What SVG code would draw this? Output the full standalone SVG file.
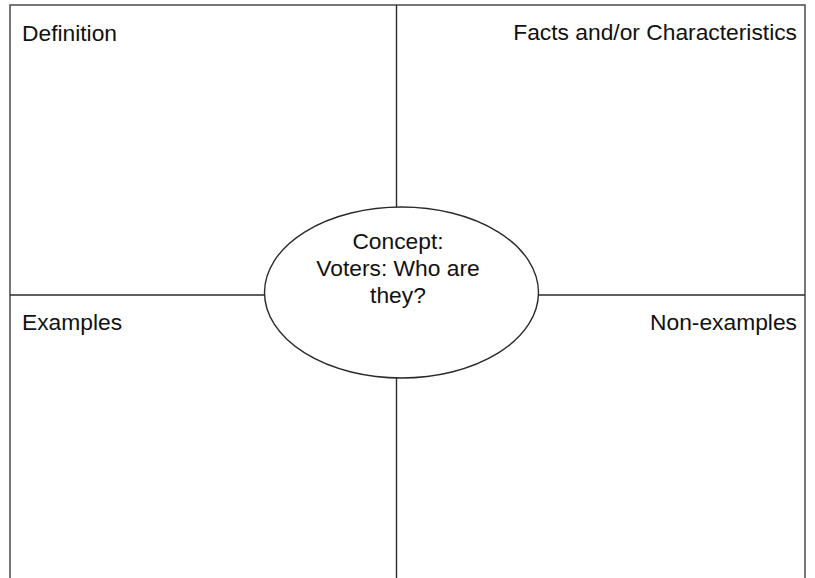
<svg xmlns="http://www.w3.org/2000/svg" width="815" height="578" viewBox="0 0 815 578">
<style>
.ln{stroke:#2a2a2a;stroke-width:1.4;fill:none}
.frame{stroke:#555;stroke-width:1.6;fill:none}
.t{font-family:"Liberation Sans",Arial,Helvetica,sans-serif;font-size:22.8px;fill:#111}
</style>
<rect width="815" height="578" fill="#fff"/>
<g id="frame"><rect class="frame" x="10" y="5" width="795" height="600"/></g>
<g id="connectors">
<line class="ln" x1="396.5" y1="5" x2="396.5" y2="207"/>
<line class="ln" x1="396.5" y1="378" x2="396.5" y2="578"/>
<line class="ln" x1="10" y1="295" x2="264.5" y2="295"/>
<line class="ln" x1="538.5" y1="295" x2="805" y2="295"/>
</g>
<g id="definition"><text class="t" x="22" y="41">Definition</text></g>
<g id="facts"><text class="t" x="797" y="40" text-anchor="end">Facts and/or Characteristics</text></g>
<g id="examples"><text class="t" x="22" y="330">Examples</text></g>
<g id="non-examples"><text class="t" x="797" y="330" text-anchor="end">Non-examples</text></g>
<g id="concept">
<ellipse class="ln" cx="401.5" cy="292.5" rx="137" ry="85.5" fill="#fff"/>
<text class="t" text-anchor="middle"><tspan x="398" y="249">Concept:</tspan><tspan x="398" y="276">Voters: Who are</tspan><tspan x="398" y="303">they?</tspan></text>
</g>
</svg>
